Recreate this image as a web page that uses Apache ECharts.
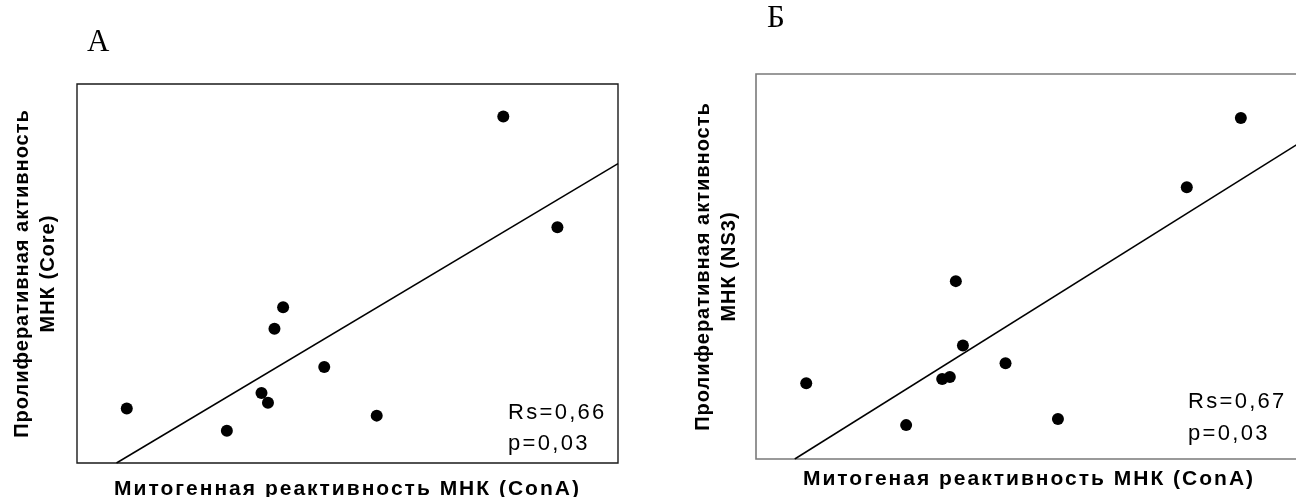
<!DOCTYPE html>
<html>
<head>
<meta charset="utf-8">
<script src="https://cdn.jsdelivr.net/npm/echarts@6/dist/echarts.min.js"></script>
<style>
html,body{margin:0;padding:0;background:#fff;}
#chart{width:1296px;height:497px;}
</style>
</head>
<body>
<div id="chart"></div>
<script>
// Panel A: ConA (x) vs Core (y), relative units 0-100
const conA_A = [9.2, 27.7, 34.1, 35.3, 36.5, 38.1, 45.7, 55.4, 78.8, 88.8];
const core_A = [14.4, 8.5, 18.5, 15.9, 35.4, 41.1, 25.3, 12.5, 91.4, 62.2];
const trendA = [[7.3, 0], [100, 79.0]];
// Panel B: ConA (x) vs NS3 (y)
const conA_B = [9.2, 27.5, 34.1, 35.5, 36.6, 37.9, 45.7, 55.3, 78.9, 88.8];
const ns3_B = [19.7, 8.8, 20.8, 21.3, 46.2, 29.5, 24.9, 10.4, 70.6, 88.6];
const trendB = [[7.1, 0], [100, 82.5]];

const panelLetters = ['А', 'Б'];
const xTitles = ['Митогенная реактивность МНК (ConA)', 'Митогеная реактивность МНК (ConA)'];
const yTitles = ['Пролиферативная активность\nМНК (Core)', 'Пролиферативная активность\nМНК (NS3)'];
const statsA = ['Rs=0,66', 'p=0,03'];
const statsB = ['Rs=0,67', 'p=0,03'];

// Wide letter spacing as in the original figure (canvas text style only)
(function () {
  const proto = CanvasRenderingContext2D.prototype;
  if (!('letterSpacing' in proto)) return;
  const orig = proto.fillText;
  proto.fillText = function (t, x, y, m) {
    const f = this.font || '';
    let s = '0px';
    if (/serif/i.test(f) && !/sans/i.test(f)) s = '0px';
    else if (/21px/.test(f)) s = '2px';
    else if (/20px/.test(f)) s = '1px';
    else if (/22px/.test(f)) s = '2.3px';
    this.letterSpacing = s;
    const r = orig.call(this, t, x, y, m);
    this.letterSpacing = '0px';
    return r;
  };
})();

const pts = (xs, ys) => xs.map((x, i) => [x, ys[i]]);

const chart = echarts.init(document.getElementById('chart'), null, {renderer: 'canvas'});
const sans = '"Liberation Sans", Arial, sans-serif';
const xAxisCommon = {
  type: 'value', min: 0, max: 100, nameLocation: 'middle',
  axisLine: {show: false}, axisTick: {show: false}, axisLabel: {show: false}, splitLine: {show: false},
  nameTextStyle: {fontFamily: sans, fontWeight: 'bold', fontSize: 21, color: '#000'}
};
const yAxisCommon = {
  type: 'value', min: 0, max: 100, nameLocation: 'middle', nameRotate: 90,
  axisLine: {show: false}, axisTick: {show: false}, axisLabel: {show: false}, splitLine: {show: false},
  nameTextStyle: {fontFamily: sans, fontWeight: 'bold', fontSize: 20, lineHeight: 26, color: '#000', align: 'center'}
};
const scatterStyle = {type: 'scatter', symbol: 'circle', symbolSize: 12, itemStyle: {color: '#000', opacity: 1}, silent: true};
const lineStyle = {type: 'line', showSymbol: false, symbol: 'none', lineStyle: {color: '#000', width: 1.5}, silent: true};

chart.setOption({
  animation: false,
  backgroundColor: '#fff',
  grid: [
    {left: 77, top: 84, width: 541, height: 379, show: true, borderColor: '#1a1a1a', borderWidth: 1.4, backgroundColor: 'transparent', outerBoundsMode: 'none', containLabel: false},
    {left: 756, top: 74, width: 546, height: 385, show: true, borderColor: '#7a7a7a', borderWidth: 1.6, backgroundColor: 'transparent', outerBoundsMode: 'none', containLabel: false}
  ],
  xAxis: [
    Object.assign({}, xAxisCommon, {gridIndex: 0, name: xTitles[0], nameGap: 16}),
    Object.assign({}, xAxisCommon, {gridIndex: 1, name: xTitles[1], nameGap: 10})
  ],
  yAxis: [
    Object.assign({}, yAxisCommon, {gridIndex: 0, name: yTitles[0], nameGap: 16}),
    Object.assign({}, yAxisCommon, {gridIndex: 1, name: yTitles[1], nameGap: 14})
  ],
  series: [
    Object.assign({}, scatterStyle, {xAxisIndex: 0, yAxisIndex: 0, data: pts(conA_A, core_A)}),
    Object.assign({}, lineStyle, {xAxisIndex: 0, yAxisIndex: 0, data: trendA}),
    Object.assign({}, scatterStyle, {xAxisIndex: 1, yAxisIndex: 1, data: pts(conA_B, ns3_B)}),
    Object.assign({}, lineStyle, {xAxisIndex: 1, yAxisIndex: 1, data: trendB})
  ],
  graphic: [
    {type: 'text', left: 87, top: 27, style: {text: panelLetters[0], font: '31px "Liberation Serif", "Times New Roman", serif', fill: '#000'}},
    {type: 'text', left: 767, top: 3, style: {text: panelLetters[1], font: '31px "Liberation Serif", "Times New Roman", serif', fill: '#000'}},
    {type: 'text', left: 508, top: 402, style: {text: statsA[0], font: '22px ' + sans, fill: '#000'}},
    {type: 'text', left: 508, top: 433, style: {text: statsA[1], font: '22px ' + sans, fill: '#000'}},
    {type: 'text', left: 1188, top: 391, style: {text: statsB[0], font: '22px ' + sans, fill: '#000'}},
    {type: 'text', left: 1188, top: 423, style: {text: statsB[1], font: '22px ' + sans, fill: '#000'}}
  ]
});
</script>
</body>
</html>
